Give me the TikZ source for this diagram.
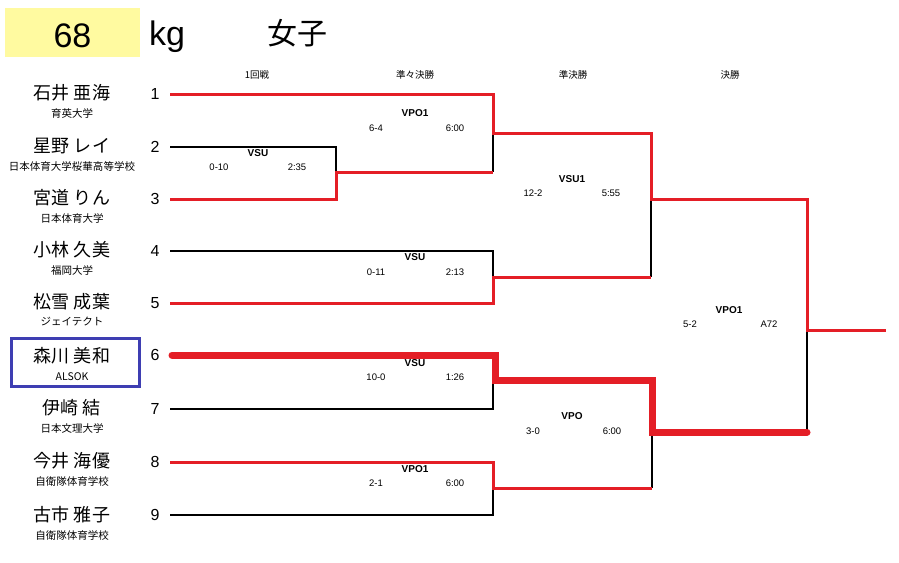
\documentclass[tikz,border=0pt]{standalone}
\usepackage{fontspec}
\setmainfont{Liberation Sans}
\newfontfamily\jp{Noto Sans CJK JP}
\usepackage{xcolor}
\usetikzlibrary{positioning}
\definecolor{winred}{RGB}{228,30,38}
\definecolor{markblue}{RGB}{62,62,178}
\definecolor{headyellow}{RGB}{255,250,160}
\tikzset{plname/.style={inner sep=0pt,font=\jp\fontsize{18}{18}\selectfont},
         affil/.style={inner sep=0pt,font=\jp\fontsize{10.5}{10.5}\selectfont},
         seed/.style={inner sep=0pt,font=\fontsize{16}{16}\selectfont},
         rnd/.style={inner sep=0pt,font=\jp\fontsize{9.5}{9.5}\selectfont},
         method/.style={inner sep=0pt,font=\bfseries\fontsize{10}{10}\selectfont},
         score/.style={inner sep=0pt,font=\fontsize{9.5}{9.5}\selectfont},
         lose/.style={black,line width=1.1pt},
         win/.style={winred,line width=3pt},
         star/.style={winred,line width=7pt,line cap=round}}

\begin{document}
\begin{tikzpicture}[x=1pt,y=-1pt]
    \useasboundingbox (0,0) rectangle (899,562);

    \node[fill=headyellow,minimum width=135pt,minimum height=49pt,inner sep=0pt,text height=34pt,text depth=5pt,font=\fontsize{34}{34}\selectfont] (wt) at (72.5,32.5) {68};
    \node[anchor=base,inner sep=0pt,font=\fontsize{34}{34}\selectfont] (kg) at (167,45) {kg};
    \node[inner sep=0pt,font=\jp\fontsize{30}{30}\selectfont] (cls) at (297,33) {女子};

    \node[rnd] (r1) at (257,75) {1回戦};
    \node[rnd] (r2) at (415,75) {準々決勝};
    \node[rnd] (r3) at (573,75) {準決勝};
    \node[rnd] (r4) at (730,75) {決勝};

    \node[plname] (n1) at (72,93) {石井 亜海};
    \node[affil] (a1) at (72,113) {育英大学};
    \node[plname] (n2) at (72,146) {星野 レイ};
    \node[affil] (a2) at (72,166) {日本体育大学桜華高等学校};
    \node[plname] (n3) at (72,198) {宮道 りん};
    \node[affil] (a3) at (72,218) {日本体育大学};
    \node[plname] (n4) at (72,250) {小林 久美};
    \node[affil] (a4) at (72,270) {福岡大学};
    \node[plname] (n5) at (72,302) {松雪 成葉};
    \node[affil] (a5) at (72,322) {ジェイテクト};
    \node[plname] (n6) at (72,356) {森川 美和};
    \node[affil] (a6) at (72,377) {ALSOK};
    \node[plname] (n7) at (72,408) {伊崎 結};
    \node[affil] (a7) at (72,428) {日本文理大学};
    \node[plname] (n8) at (72,461) {今井 海優};
    \node[affil] (a8) at (72,481) {自衛隊体育学校};
    \node[plname] (n9) at (72,515) {古市 雅子};
    \node[affil] (a9) at (72,535) {自衛隊体育学校};
    \node[draw=markblue,line width=3pt,minimum width=128pt,minimum height=48pt] (box6) at (75,362) {};

    \node[seed] (k1) at (155,94) {1};
    \node[seed] (k2) at (155,147) {2};
    \node[seed] (k3) at (155,199) {3};
    \node[seed] (k4) at (155,251) {4};
    \node[seed] (k5) at (155,303) {5};
    \node[seed] (k6) at (155,355) {6};
    \node[seed] (k7) at (155,409) {7};
    \node[seed] (k8) at (155,462) {8};
    \node[seed] (k9) at (155,515) {9};

    \coordinate (s1) at (170,94);
    \coordinate (s2) at (170,147);
    \coordinate (s3) at (170,199);
    \coordinate (s4) at (170,251);
    \coordinate (s5) at (170,303);
    \coordinate (s6) at (172,355);
    \coordinate (s7) at (170,409);
    \coordinate (s8) at (170,462);
    \coordinate (s9) at (170,515);
    \coordinate (j1) at (336,172);
    \coordinate (q1) at (493,133);
    \coordinate (q2) at (493,277);
    \coordinate (q3) at (495,380);
    \coordinate (q4) at (493,488);
    \coordinate (f1) at (651,199);
    \coordinate (f2) at (652,432);
    \coordinate (ch) at (807,330);
    \coordinate (out) at (886,330);

    \draw[lose] (s2) -| (j1);
    \draw[lose] (j1 -| q1) -- (q1);
    \draw[lose] (s4) -| (q2);
    \draw[lose] (q2 -| f1) -- (f1);
    \draw[lose] (s7) -| (493,380);
    \draw[lose] (s9) -| (q4);
    \draw[lose] (q4 -| f2) -- (f2);
    \draw[lose] (f2 -| ch) -- (ch);

    \draw[win] (s1) -| (q1) -| (f1) -| (ch) -- (out);
    \draw[win] (s3) -| (j1) -- (j1 -| q1);
    \draw[win] (s5) -| (q2) -- (q2 -| f1);
    \draw[win] (s8) -| (q4) -- (q4 -| f2);
    \draw[star] (s6) -| (q3) -| (f2) -- (f2 -| ch);

    \node[method] (m1) at (258,153) {VSU};
    \node[score] (m1a) at (219,167) {0-10};
    \node[score] (m1b) at (297,167) {2:35};
    \node[method] (m2) at (415,113) {VPO1};
    \node[score] (m2a) at (376,128) {6-4};
    \node[score] (m2b) at (455,128) {6:00};
    \node[method] (m3) at (415,257) {VSU};
    \node[score] (m3a) at (376,272) {0-11};
    \node[score] (m3b) at (455,272) {2:13};
    \node[method] (m4) at (415,363) {VSU};
    \node[score] (m4a) at (376,377) {10-0};
    \node[score] (m4b) at (455,377) {1:26};
    \node[method] (m5) at (415,469) {VPO1};
    \node[score] (m5a) at (376,483) {2-1};
    \node[score] (m5b) at (455,483) {6:00};
    \node[method] (m6) at (572,179) {VSU1};
    \node[score] (m6a) at (533,193) {12-2};
    \node[score] (m6b) at (611,193) {5:55};
    \node[method] (m7) at (572,416) {VPO};
    \node[score] (m7a) at (533,431) {3-0};
    \node[score] (m7b) at (612,431) {6:00};
    \node[method] (m8) at (729,310) {VPO1};
    \node[score] (m8a) at (690,324) {5-2};
    \node[score] (m8b) at (769,324) {A72};
\end{tikzpicture}
\end{document}
